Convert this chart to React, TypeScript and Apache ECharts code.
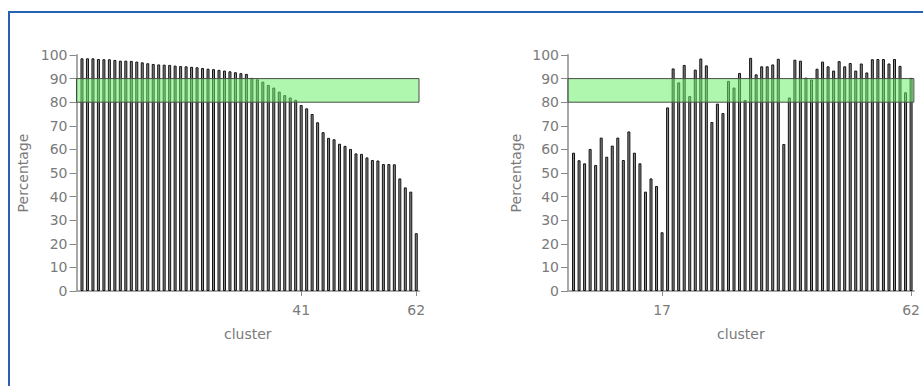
import React, { useEffect, useRef } from "react";
import * as echarts from "echarts";

const clusters = [
  1, 2, 3, 4, 5, 6, 7, 8, 9, 10, 11, 12, 13, 14, 15, 16, 17, 18, 19, 20, 21,
  22, 23, 24, 25, 26, 27, 28, 29, 30, 31, 32, 33, 34, 35, 36, 37, 38, 39, 40,
  41, 42, 43, 44, 45, 46, 47, 48, 49, 50, 51, 52, 53, 54, 55, 56, 57, 58, 59,
  60, 61, 62,
];

const leftValues = [
  98.6, 98.6, 98.6, 98.3, 98.2, 98.2, 97.9, 97.6, 97.6, 97.5, 97.2, 96.9, 96.5,
  96.2, 96.0, 95.9, 95.8, 95.5, 95.3, 95.2, 95.0, 94.8, 94.5, 94.2, 94.0, 93.7,
  93.4, 93.1, 92.7, 92.3, 92.0, 90.3, 89.7, 88.7, 87.3, 86.2, 84.5, 83.0, 82.0,
  81.0, 78.8, 77.4, 75.0, 71.5, 67.3, 64.9, 64.3, 62.4, 61.5, 60.2, 58.3, 58.1,
  56.6, 55.5, 55.3, 53.8, 53.8, 53.7, 47.7, 43.9, 42.1, 24.5,
];

const rightValues = [
  58.6, 55.4, 54.1, 60.2, 53.4, 65.0, 56.9, 61.6, 65.0, 55.5, 67.6, 58.6, 54.1,
  42.1, 47.7, 44.5, 24.9, 77.8, 94.3, 88.4, 95.8, 82.6, 93.8, 98.5, 95.6, 71.6,
  79.4, 75.4, 89.0, 86.2, 92.4, 80.9, 98.8, 91.8, 95.2, 95.2, 96.0, 98.4, 62.3,
  82.0, 98.0, 97.6, 90.4, 89.6, 94.2, 97.2, 95.2, 93.4, 97.4, 95.2, 96.6, 93.4,
  96.4, 92.6, 98.2, 98.3, 98.3, 96.4, 98.3, 95.4, 84.2, 90.3,
];

const yTickStep = 10;
const leftTickLabels = [41, 62];
const rightTickLabels = [17, 62];
const bandLow = 80;
const bandHigh = 90;

const FONT = "DejaVu Sans";
const TEXT = "#7a7a7a";
const AXIS = "#a8a8a8";

function xAxisFor(gridIndex: number, ticks: number[]) {
  return {
    type: "value",
    gridIndex,
    min: 0,
    max: 62.5,
    name: "cluster",
    nameLocation: "middle",
    nameGap: 36,
    nameTextStyle: { color: TEXT, fontFamily: FONT, fontSize: 14 },
    axisLine: { show: true, lineStyle: { color: AXIS, width: 2 } },
    axisTick: {
      show: true,
      customValues: ticks,
      length: 5,
      lineStyle: { color: "#888", width: 1 },
    },
    axisLabel: {
      customValues: ticks,
      color: TEXT,
      fontFamily: FONT,
      fontSize: 14,
      margin: 12,
    },
    splitLine: { show: false },
  };
}

function yAxisFor(gridIndex: number, gap: number) {
  return {
    type: "value",
    gridIndex,
    min: 0,
    max: 100,
    interval: yTickStep,
    name: "Percentage",
    nameLocation: "middle",
    nameGap: gap,
    nameTextStyle: { color: TEXT, fontFamily: FONT, fontSize: 14 },
    axisLine: { show: true, lineStyle: { color: AXIS, width: 2 } },
    axisTick: { show: true, length: 7, lineStyle: { color: "#888", width: 1 } },
    axisLabel: {
      color: TEXT,
      fontFamily: FONT,
      fontSize: 14,
      margin: 9,
    },
    splitLine: { show: false },
  };
}

function barSeries(idx: number, values: number[]) {
  return {
    type: "bar",
    xAxisIndex: idx,
    yAxisIndex: idx,
    barWidth: 3,
    data: values.map((v, i) => [clusters[i], v]),
    itemStyle: { color: "#8a8a8a", borderColor: "#111111", borderWidth: 1 },
    markArea: {
      silent: true,
      z: 5,
      itemStyle: {
        color: "rgba(110,240,110,0.55)",
        borderColor: "#4a4a4a",
        borderWidth: 1,
      },
      data: [[{ yAxis: bandLow }, { yAxis: bandHigh }]],
    },
  };
}

export default function App() {
  const ref = useRef<HTMLDivElement>(null);
  useEffect(() => {
    if (!ref.current) return;
    const chart = echarts.init(ref.current, null, { renderer: "svg" });
    chart.setOption({
      animation: false,
      backgroundColor: "#ffffff",
      grid: [
        { left: 76.5, top: 55, width: 342.5, height: 236, containLabel: false },
        { left: 568, top: 55, width: 348, height: 236, containLabel: false },
      ],
      xAxis: [xAxisFor(0, leftTickLabels), xAxisFor(1, rightTickLabels)],
      yAxis: [yAxisFor(0, 47), yAxisFor(1, 45)],
      series: [barSeries(0, leftValues), barSeries(1, rightValues)],
      graphic: [
        {
          type: "rect",
          shape: { x: 9, y: 12, width: 1000, height: 500 },
          style: { fill: "none", stroke: "#2562b3", lineWidth: 2 },
          silent: true,
        },
      ],
    });
    return () => chart.dispose();
  }, []);
  return (
    <div
      ref={ref}
      style={{ position: "absolute", left: 0, top: 0, width: 923, height: 386 }}
    />
  );
}
